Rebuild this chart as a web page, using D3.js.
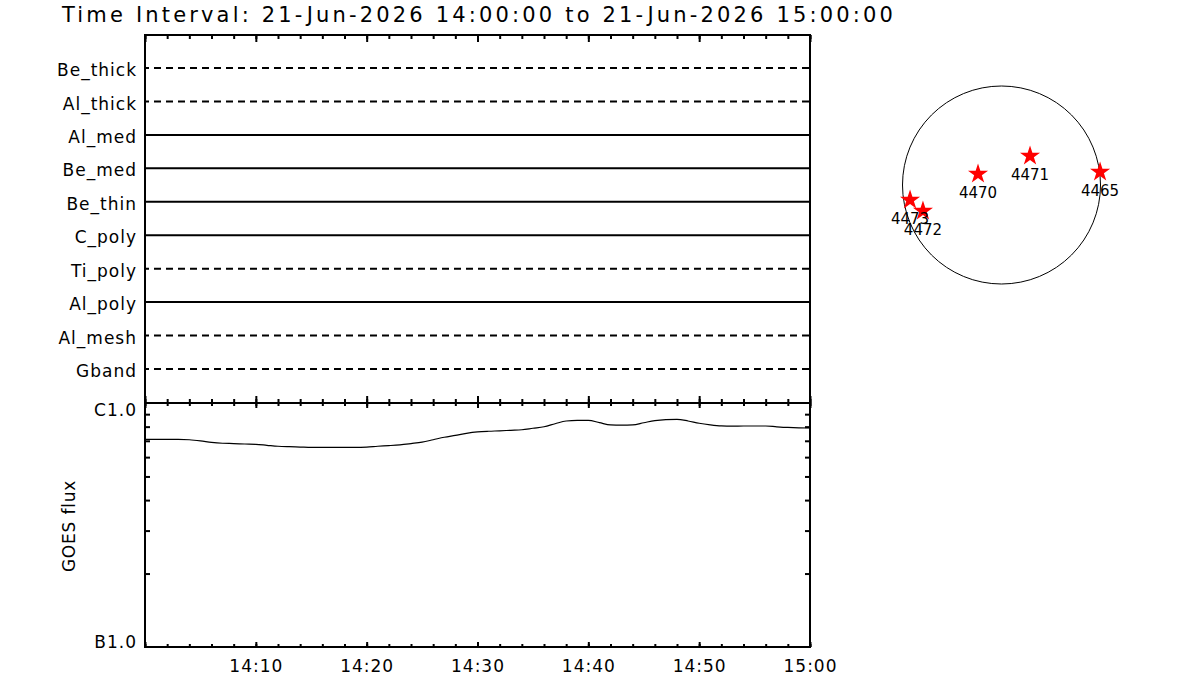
<!DOCTYPE html>
<html>
<head>
<meta charset="utf-8">
<script src="https://cdn.jsdelivr.net/npm/d3@7"></script>
<style>
body { margin: 0; background: #fff; }
text { font-family: "DejaVu Sans", sans-serif; fill: #000; }
</style>
</head>
<body>
<div id="chart"></div>
<script>
var w = 1200; // page width
var h = 700;  // page height

// ---- data ----
var titleText = "Time Interval: 21-Jun-2026 14:00:00 to 21-Jun-2026 15:00:00";

var channelNames = ["Be_thick", "Al_thick", "Al_med", "Be_med", "Be_thin",
                    "C_poly", "Ti_poly", "Al_poly", "Al_mesh", "Gband"];
var channelStyles = ["dash", "dash", "solid", "solid", "solid",
                     "solid", "dash", "solid", "dash", "dash"];

// minutes after 14:00 and GOES 1-8 A flux in units of 1e-7 W/m^2
var goesMinutes = [0, 1, 2, 3, 4, 5, 6, 7, 8, 9,
                   10, 11, 12, 13, 14, 15, 16, 17, 18, 19,
                   20, 21, 22, 23, 24, 25, 26, 27, 28, 29,
                   30, 31, 32, 33, 34, 35, 36, 37, 38, 39,
                   40, 41, 42, 43, 44, 45, 46, 47, 48, 49,
                   50, 51, 52, 53, 54, 55, 56, 57, 58, 59, 60];
var goesFlux = [7.10, 7.10, 7.09, 7.09, 7.07, 7.00, 6.90, 6.84, 6.82, 6.79,
                6.77, 6.71, 6.65, 6.62, 6.60, 6.58, 6.58, 6.58, 6.58, 6.58,
                6.60, 6.65, 6.69, 6.74, 6.82, 6.91, 7.07, 7.24, 7.37, 7.51,
                7.61, 7.66, 7.69, 7.73, 7.77, 7.88, 7.99, 8.22, 8.44, 8.49,
                8.48, 8.31, 8.13, 8.11, 8.13, 8.30, 8.47, 8.55, 8.57, 8.44,
                8.26, 8.14, 8.06, 8.04, 8.05, 8.05, 8.05, 7.99, 7.94, 7.91, 7.90];

var goesTickValues = [1e-7, 1e-6];
var goesTickLabels = ["B1.0", "C1.0"];
var goesMinorTicks = [2e-7, 3e-7, 4e-7, 5e-7, 6e-7, 7e-7, 8e-7, 9e-7];

// active regions, heliocentric arcsec
var regionNumbers = ["4473", "4472", "4470", "4471", "4465"];
var regionX = [-872, -749, -224, 272, 940];
var regionY = [-143, -248, 105, 277, 124];
var solarRadius = 944;

var startTime = new Date(2026, 5, 21, 14, 0, 0);
var endTime = new Date(2026, 5, 21, 15, 0, 0);

// ---- layout ----
var left = 145, right = 810;
var topY = 35, midY = 403, bottomY = 647;

var svg = d3.select("#chart")
    .append("svg")
    .attr("width", w)
    .attr("height", h);

svg.append("rect").attr("width", w).attr("height", h).attr("fill", "#fff");

// title
svg.append("text")
    .attr("x", 62)
    .attr("y", 22)
    .attr("textLength", 831)
    .attr("lengthAdjust", "spacing")
    .style("font-size", "21px")
    .text(titleText);

var xScale = d3.scaleTime()
    .domain([startTime, endTime])
    .range([left, right]);

var rowScale = d3.scalePoint()
    .domain(channelNames)
    .range([68, 369]);

var yScale = d3.scaleLog()
    .domain([1e-7, 1e-6])
    .range([bottomY, midY]);

var minorTimes = xScale.ticks(d3.timeMinute.every(2));
var majorTimes = xScale.ticks(d3.timeMinute.every(10));
var labelTimes = majorTimes.filter(function(d) { return d > startTime; });

// channel lines in the top panel
svg.append("g")
    .selectAll("line")
    .data(channelNames)
    .enter()
    .append("line")
    .attr("x1", xScale(startTime))
    .attr("x2", xScale(endTime))
    .attr("y1", function(d) { return rowScale(d); })
    .attr("y2", function(d) { return rowScale(d); })
    .attr("stroke", "#000")
    .attr("stroke-width", 2)
    .attr("stroke-dasharray", function(d, i) { return channelStyles[i] === "dash" ? "7,5" : null; })
    .attr("stroke-dashoffset", 3);

// GOES curve
var goesData = goesMinutes.map(function(m, i) {
    return { time: d3.timeMinute.offset(startTime, m), flux: goesFlux[i] * 1e-7 };
});

var line = d3.line()
    .x(function(d) { return xScale(d.time); })
    .y(function(d) { return yScale(d.flux); })
    .curve(d3.curveMonotoneX);

svg.append("path")
    .datum(goesData)
    .attr("fill", "none")
    .attr("stroke", "#000")
    .attr("stroke-width", 1.2)
    .attr("d", line);

// helper for tick-only axes
function tickAxis(axis, transform) {
    var g = svg.append("g")
        .attr("transform", transform)
        .call(axis);
    g.select(".domain").remove();
    g.selectAll("text").remove();
    g.selectAll("line").attr("stroke-width", 2);
    return g;
}

// time ticks
tickAxis(d3.axisBottom(xScale).tickValues(minorTimes).tickSize(4), "translate(0," + topY + ")");
tickAxis(d3.axisBottom(xScale).tickValues(majorTimes).tickSize(7), "translate(0," + topY + ")");
tickAxis(d3.axisTop(xScale).tickValues(minorTimes).tickSize(4), "translate(0," + midY + ")");
tickAxis(d3.axisTop(xScale).tickValues(majorTimes).tickSize(7), "translate(0," + midY + ")");
tickAxis(d3.axisBottom(xScale).tickValues(minorTimes).tickSize(3), "translate(0," + midY + ")");
tickAxis(d3.axisBottom(xScale).tickValues(majorTimes).tickSize(5), "translate(0," + midY + ")");
tickAxis(d3.axisTop(xScale).tickValues(minorTimes).tickSize(3), "translate(0," + bottomY + ")");
tickAxis(d3.axisTop(xScale).tickValues(majorTimes).tickSize(5), "translate(0," + bottomY + ")");

// flux minor ticks, both sides
tickAxis(d3.axisRight(yScale).tickValues(goesMinorTicks).tickSize(5), "translate(" + left + ",0)");
tickAxis(d3.axisLeft(yScale).tickValues(goesMinorTicks).tickSize(5), "translate(" + right + ",0)");

// time labels
var xLabels = svg.append("g")
    .attr("transform", "translate(0," + bottomY + ")")
    .call(d3.axisBottom(xScale)
        .tickValues(labelTimes)
        .tickSize(0)
        .tickPadding(13)
        .tickFormat(d3.timeFormat("%H:%M")));
xLabels.select(".domain").remove();
xLabels.selectAll("text")
    .attr("fill", "#000")
    .style("font-size", "17px")
    .style("letter-spacing", "1px")
    .style("font-family", "DejaVu Sans, sans-serif");

// channel labels
var rowLabels = svg.append("g")
    .attr("transform", "translate(" + left + ",0)")
    .call(d3.axisLeft(rowScale).tickSize(0).tickPadding(8));
rowLabels.select(".domain").remove();
rowLabels.selectAll("text")
    .attr("dy", "0.45em")
    .attr("fill", "#000")
    .style("font-size", "17px")
    .style("letter-spacing", "1px")
    .style("font-family", "DejaVu Sans, sans-serif");

// GOES class labels
var fluxLabels = svg.append("g")
    .attr("transform", "translate(" + left + ",0)")
    .call(d3.axisLeft(yScale)
        .tickValues(goesTickValues)
        .tickSize(0)
        .tickPadding(8)
        .tickFormat(function(d, i) { return goesTickLabels[i]; }));
fluxLabels.select(".domain").remove();
fluxLabels.selectAll("text")
    .attr("dy", function(d) { return d === 1e-6 ? "0.73em" : "0"; })
    .attr("fill", "#000")
    .style("font-size", "17px")
    .style("letter-spacing", "1px")
    .style("font-family", "DejaVu Sans, sans-serif");

svg.append("text")
    .attr("transform", "translate(69,526) rotate(-90)")
    .attr("text-anchor", "middle")
    .attr("dy", "0.35em")
    .style("font-size", "17px")
    .style("letter-spacing", "0.8px")
    .text("GOES flux");

// panel frames
var frame = svg.append("g")
    .attr("stroke", "#000")
    .attr("stroke-width", 2)
    .attr("fill", "none");
frame.append("rect")
    .attr("x", left).attr("y", topY)
    .attr("width", right - left).attr("height", midY - topY);
frame.append("rect")
    .attr("x", left).attr("y", midY)
    .attr("width", right - left).attr("height", bottomY - midY);

// solar disk with active regions
var sunX = d3.scaleLinear().domain([-solarRadius, solarRadius]).range([902.5, 1100.5]);
var sunY = d3.scaleLinear().domain([-solarRadius, solarRadius]).range([284, 86]);

svg.append("circle")
    .attr("cx", sunX(0))
    .attr("cy", sunY(0))
    .attr("r", sunX(solarRadius) - sunX(0))
    .attr("fill", "none")
    .attr("stroke", "#000")
    .attr("stroke-width", 1);

var star = d3.symbol().type(d3.symbolStar).size(125);

svg.append("g")
    .selectAll("path")
    .data(regionNumbers)
    .enter()
    .append("path")
    .attr("d", star)
    .attr("fill", "#ff0000")
    .attr("transform", function(d, i) {
        return "translate(" + sunX(regionX[i]) + "," + sunY(regionY[i]) + ")";
    });

svg.append("g")
    .selectAll("text")
    .data(regionNumbers)
    .enter()
    .append("text")
    .attr("x", function(d, i) { return sunX(regionX[i]); })
    .attr("y", function(d, i) { return sunY(regionY[i]) + 19; })
    .attr("dy", "0.35em")
    .attr("text-anchor", "middle")
    .style("font-size", "15px")
    .text(function(d) { return d; });
</script>
</body>
</html>
